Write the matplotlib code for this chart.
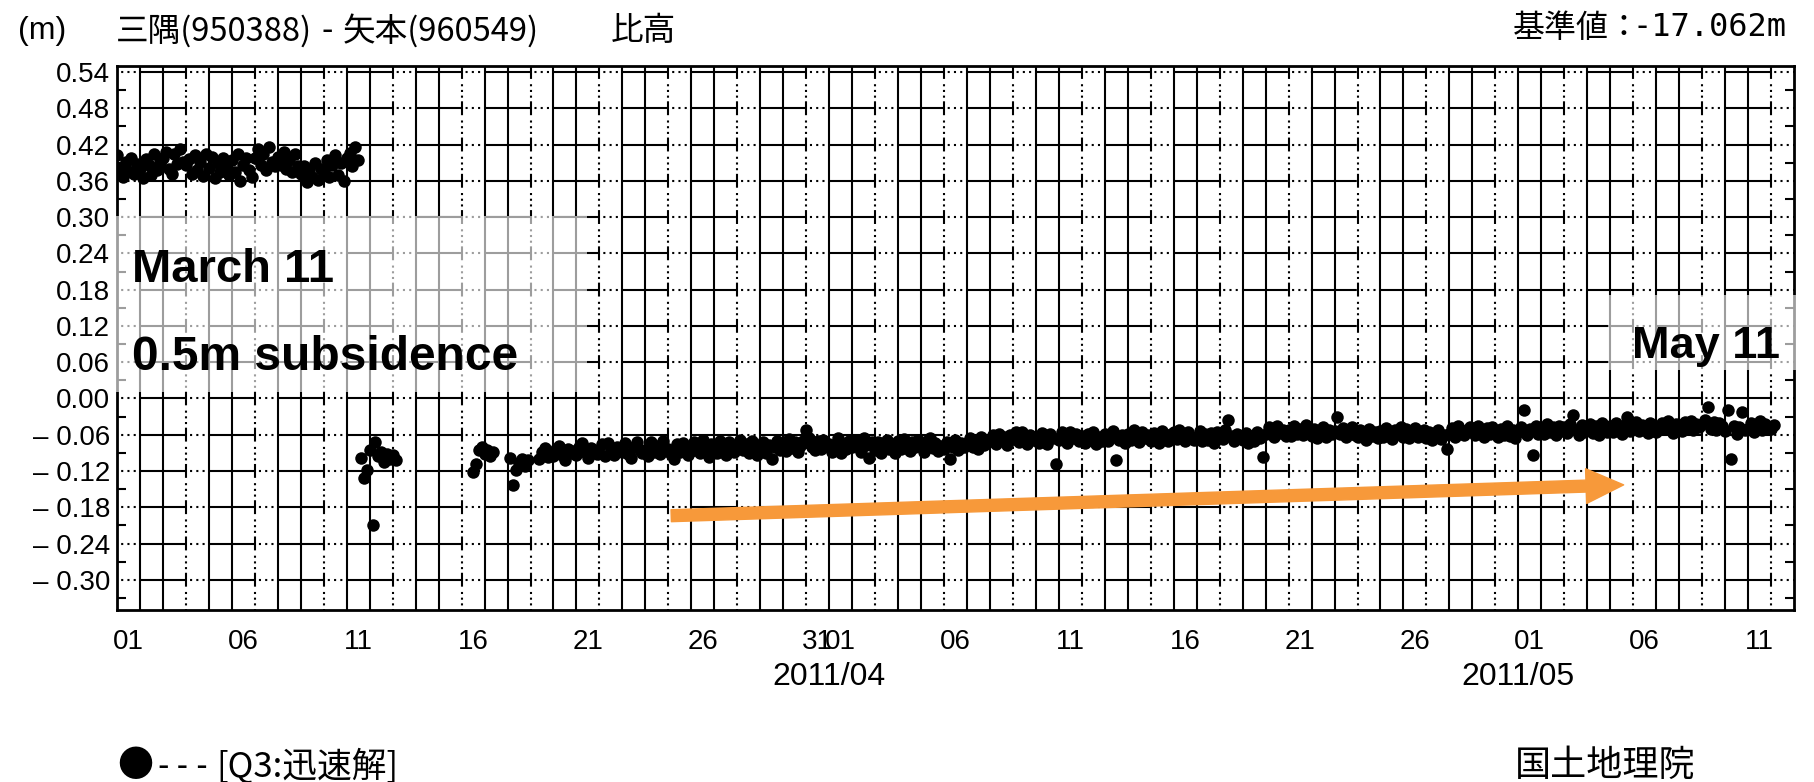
import matplotlib
matplotlib.use("Agg")
import matplotlib.pyplot as plt
import matplotlib.dates as mdates
import matplotlib.transforms as mtransforms
from matplotlib.patches import Rectangle, FancyArrowPatch, ArrowStyle
from matplotlib.ticker import FixedLocator
import numpy as np
import pandas as pd

# ---------------------------------------------------------------------------
# Data (relative height, mm), 3-hourly Q3 rapid solutions
# ---------------------------------------------------------------------------
PRE_START = "2011-03-01 00:00"
PRE_MM = [
    402, 382, 366, 392, 376, 398, 372, 388,   # 03/01
    380, 364, 396, 386, 370, 404, 378, 392,   # 03/02
    398, 408, 380, 372, 404, 388, 412, 392,   # 03/03
    386, 396, 372, 402, 378, 392, 368, 404,   # 03/04
    382, 400, 364, 390, 374, 398, 386, 370,   # 03/05
    394, 374, 404, 360, 386, 398, 378, 366,   # 03/06
    398, 412, 386, 404, 378, 416, 392, 384,   # 03/07
    400, 386, 408, 380, 394, 374, 404, 384,   # 03/08
    372, 384, 358, 378, 366, 390, 362, 380,   # 03/09
    376, 394, 366, 386, 402, 370, 390, 360,   # 03/10
    398, 406, 384, 416, 394,                  # 03/11 until quake
]

QUAKE_START = "2011-03-11 15:00"
QUAKE_MM = [-98, -132, -118, -85, -210, -72, -95, -88, -105, -92, -100, -94, -102]

MAR16_START = "2011-03-16 12:00"
MAR16_MM = [-122, -108, -85, -80, -92, -86, -96, -88]

MAR18_START = "2011-03-18 03:00"
MAR18_MM = [-98, -143, -118, -106, -100, -112, -102]

MAIN_START = "2011-03-19 09:00"
MAIN_MM = [
    -100, -88, -82, -97, -91,                 # 03/19
    -96, -84, -78, -93, -102, -83, -90, -87,  # 03/20
    -94, -80, -74, -89, -99, -82, -86, -92,   # 03/21
    -90, -76, -95, -73, -85, -93, -80, -87,   # 03/22
    -88, -74, -92, -98, -80, -72, -86, -90,   # 03/23
    -85, -95, -72, -88, -78, -92, -70, -84,   # 03/24
    -83, -92, -100, -76, -88, -74, -82, -94,  # 03/25
    -87, -72, -80, -91, -69, -84, -97, -76,   # 03/26
    -80, -90, -70, -84, -94, -72, -81, -88,   # 03/27
    -79, -68, -86, -76, -91, -70, -82, -93,   # 03/28
    -84, -72, -90, -77, -100, -80, -70, -86,  # 03/29
    -78, -87, -67, -82, -72, -89, -79, -70,   # 03/30
    -52, -66, -80, -86, -70, -83, -68, -79,   # 03/31
    -75, -88, -79, -66, -90, -76, -83, -70,   # 04/01
    -81, -69, -78, -89, -66, -77, -98, -72,   # 04/02
    -85, -72, -90, -77, -68, -83, -75, -91,   # 04/03
    -71, -84, -67, -78, -87, -72, -80, -68,   # 04/04
    -77, -89, -71, -66, -82, -74, -87, -79,   # 04/05
    -84, -72, -100, -80, -68, -86, -73, -81,  # 04/06
    -74, -66, -80, -70, -84, -64, -77, -69,   # 04/07
    -70, -60, -75, -58, -69, -63, -77, -61,   # 04/08
    -67, -56, -72, -55, -64, -75, -60, -68,   # 04/09
    -63, -73, -57, -69, -76, -58, -66, -108,  # 04/10
    -68, -56, -63, -73, -55, -66, -59, -70,   # 04/11
    -62, -74, -58, -69, -55, -75, -64, -71,   # 04/12
    -59, -70, -63, -54, -102, -68, -60, -74,  # 04/13
    -58, -68, -53, -63, -72, -56, -65, -60,   # 04/14
    -70, -57, -64, -73, -54, -61, -71, -59,   # 04/15
    -56, -67, -52, -62, -71, -55, -64, -69,   # 04/16
    -64, -54, -70, -59, -68, -57, -73, -55,   # 04/17
    -57, -67, -52, -36, -62, -71, -58, -65,   # 04/18
    -68, -57, -74, -62, -70, -55, -65, -97,   # 04/19
    -58, -47, -55, -63, -45, -57, -52, -62,   # 04/20
    -52, -62, -46, -58, -50, -61, -44, -56,   # 04/21
    -62, -50, -65, -56, -47, -63, -53, -59,   # 04/22
    -54, -30, -59, -49, -64, -56, -47, -61,   # 04/23
    -64, -53, -59, -68, -50, -62, -56, -66,   # 04/24
    -54, -63, -49, -60, -67, -52, -58, -48,   # 04/25
    -63, -51, -66, -57, -49, -64, -59, -53,   # 04/26
    -66, -55, -69, -60, -52, -67, -61, -83,   # 04/27
    -58, -49, -63, -46, -55, -61, -52, -48,   # 04/28
    -52, -60, -45, -56, -63, -49, -58, -47,   # 04/29
    -57, -64, -50, -60, -46, -62, -53, -66,   # 04/30
    -56, -48, -19, -60, -50, -94, -45, -58,   # 05/01
    -50, -59, -43, -56, -47, -61, -45, -54,   # 05/02
    -47, -57, -42, -27, -53, -60, -44, -55,   # 05/03
    -52, -42, -57, -46, -60, -40, -50, -55,   # 05/04
    -46, -56, -41, -52, -58, -44, -30, -54,   # 05/05
    -47, -39, -54, -44, -51, -57, -41, -49,   # 05/06
    -55, -45, -40, -51, -38, -48, -57, -43,   # 05/07
    -44, -54, -39, -49, -37, -52, -42, -47,   # 05/08
    -43, -36, -14, -50, -39, -53, -41, -46,   # 05/09
    -54, -19, -100, -45, -59, -48, -22, -52,  # 05/10
    -50, -41, -56, -45, -38, -52, -43, -48,   # 05/11
    -51, -44,                                 # 05/12
]

X_START = "2011-03-01"
X_END = "2011-05-13"
Y_MIN, Y_MAX = -0.35, 0.55
Y_TICKS = [-0.30, -0.24, -0.18, -0.12, -0.06, 0.00, 0.06, 0.12, 0.18,
           0.24, 0.30, 0.36, 0.42, 0.48, 0.54]
LABEL_DAYS = ["2011-03-01", "2011-03-06", "2011-03-11", "2011-03-16",
              "2011-03-21", "2011-03-26", "2011-03-31", "2011-04-01",
              "2011-04-06", "2011-04-11", "2011-04-16", "2011-04-21",
              "2011-04-26", "2011-05-01", "2011-05-06", "2011-05-11"]
MONTHS = ["2011-04-01", "2011-05-01"]

# trend arrow (annotation)
ARROW_FROM = ("2011-03-25 03:00", -0.194)
ARROW_TO = ("2011-05-05 14:00", -0.143)

W, H = 1814, 782
CJK = ["Noto Sans CJK JP", "DejaVu Sans"]
NUM = ["Liberation Sans Narrow", "Liberation Sans", "DejaVu Sans"]
MONO = ["DejaVu Sans Mono"]
ORANGE = "#F7993A"


def fx(px):
    return px / W


def fy(py):
    return 1 - py / H


def series(start, mm):
    t = pd.date_range(start, periods=len(mm), freq="3h")
    return t, np.array(mm) / 1000.0


def ylabel(v):
    s = f"{abs(v):.2f}"
    return "\u2013 " + s if v < 0 else s


plt.rcParams["lines.scale_dashes"] = False

fig = plt.figure(figsize=(W / 100, H / 100), dpi=100)
ax = fig.add_axes([fx(117), fy(610), fx(1794 - 117), (610 - 66) / H])

x0, x1 = pd.Timestamp(X_START), pd.Timestamp(X_END)
ax.set_xlim(x0, x1)
ax.set_ylim(Y_MIN, Y_MAX)

# ---- grid: day lines, every 3rd dash-dotted ----
vcell = 544 / 15 * 72 / 100          # 0.06 m in points
vpat = (10, 2.6, 1.5, 2.6, 1.5, 2.6, 1.5, vcell - 22.3)
ndays = (x1 - x0).days
for k in range(1, ndays):
    d = x0 + pd.Timedelta(days=k)
    if k % 3 == 0:
        ax.axvline(d, color="black", lw=1.5, zorder=1, linestyle=(9.3, vpat))
    else:
        ax.axvline(d, color="black", lw=1.5, zorder=1)

cell = 1676 / 73 * 72 / 100          # one day in points
hpat = (cell * 2, 3, 1.5, 3, 1.5, 3, 1.5, cell - 13.5)
for v in Y_TICKS:
    ax.axhline(v, color="black", lw=1.5, zorder=1, linestyle=(cell * 2, hpat))

# ---- data ----
for start, mm in [(PRE_START, PRE_MM), (QUAKE_START, QUAKE_MM),
                  (MAR16_START, MAR16_MM), (MAR18_START, MAR18_MM),
                  (MAIN_START, MAIN_MM)]:
    t, y = series(start, mm)
    ax.plot(t, y, "o", ms=9, color="black", mew=0, zorder=3)

# ---- arrow ----
arrow = FancyArrowPatch(
    posA=(mdates.date2num(pd.Timestamp(ARROW_FROM[0])), ARROW_FROM[1]),
    posB=(mdates.date2num(pd.Timestamp(ARROW_TO[0])), ARROW_TO[1]),
    arrowstyle=ArrowStyle.Simple(head_length=27, head_width=25, tail_width=8.6),
    mutation_scale=1, color=ORANGE, shrinkA=0, shrinkB=0, zorder=4)
ax.add_patch(arrow)

# ---- axes, ticks ----
for s in ax.spines.values():
    s.set_linewidth(2)
    s.set_color("black")
    s.set_zorder(2.5)

ax.set_yticks(Y_TICKS)
ax.set_yticklabels([ylabel(v) for v in Y_TICKS])
ax.yaxis.set_minor_locator(FixedLocator([v - 0.03 for v in Y_TICKS]))
ax.tick_params(axis="y", which="major", length=0, pad=5)
ax.tick_params(axis="y", which="minor", direction="in", length=6.5,
               width=1.5, left=True, right=True)

label_t = [pd.Timestamp(d) + pd.Timedelta(hours=12) for d in LABEL_DAYS]
ax.set_xticks(label_t)
ax.set_xticklabels([pd.Timestamp(d).strftime("%d") for d in LABEL_DAYS])
ax.tick_params(axis="x", which="both", length=0, pad=14)

for lab in ax.get_yticklabels() + ax.get_xticklabels():
    lab.set_fontfamily(NUM)
    lab.set_fontsize(20)

trans = mtransforms.blended_transform_factory(ax.transData, fig.transFigure)
for m in MONTHS:
    ax.text(pd.Timestamp(m), fy(677), pd.Timestamp(m).strftime("%Y/%m"),
            transform=trans, ha="center", va="center", fontsize=23,
            family=NUM, clip_on=False)

# ---- header / footer ----
fig.text(fx(18), fy(31), "(m)", fontsize=23, family=NUM, va="center")
fig.text(fx(116), fy(31), "三隅(950388)", fontsize=23.5, family=CJK, va="center")
fig.text(fx(327), fy(31), "-", fontsize=23.5, family=CJK, va="center", ha="center")
fig.text(fx(343), fy(31), "矢本(960549)", fontsize=23.5, family=CJK, va="center")
fig.text(fx(611), fy(31), "比高", fontsize=23.5, family=CJK, va="center")
fig.text(fx(1513), fy(28), "基準値：", fontsize=23, family=CJK, va="center")
fig.text(fx(1787), fy(28), "-17.062m", fontsize=23, family=MONO,
         va="center", ha="right")
fig.text(fx(117), fy(766), "●", fontsize=26, family=CJK, va="center")
fig.text(fx(153), fy(766), "---", fontsize=23.5, family=MONO, va="center")
fig.text(fx(216), fy(766), "[Q3:迅速解]", fontsize=25, family=CJK, va="center")
fig.text(fx(1515), fy(766), "国土地理院", fontsize=26, family=CJK, va="center")

# ---- slide overlays ----
for (bx0, by0, bx1, by1) in [(112, 216, 587, 392), (1608, 295, 1796, 370)]:
    fig.add_artist(Rectangle((fx(bx0), fy(by1)), (bx1 - bx0) / W,
                             (by1 - by0) / H, transform=fig.transFigure,
                             facecolor="white", edgecolor="none", alpha=0.62,
                             zorder=5))

bold = dict(family=["Liberation Sans", "DejaVu Sans"], fontweight="bold",
            va="baseline", zorder=6)
fig.text(fx(132), fy(282), "March 11", fontsize=34, **bold)
fig.text(fx(132), fy(370), "0.5m subsidence", fontsize=34.5, **bold)
fig.text(fx(1632), fy(358), "May 11", fontsize=32.5, **bold)

fig.savefig("out.png", dpi=100, facecolor="white")
